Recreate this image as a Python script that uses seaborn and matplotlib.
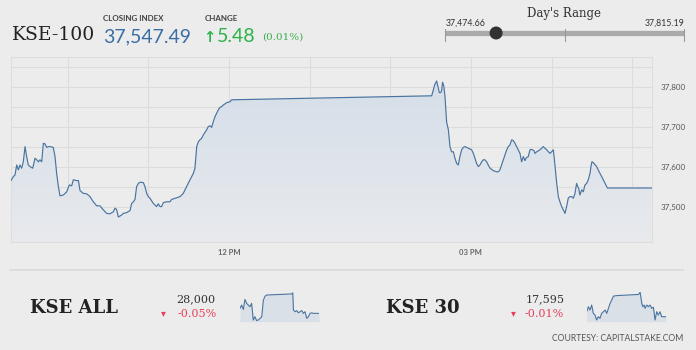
import numpy as np
import pandas as pd
import matplotlib
matplotlib.use("Agg")
import matplotlib.pyplot as plt
import seaborn as sns
from matplotlib.patches import Circle, PathPatch
from matplotlib.colors import to_rgba

# ---------------- data ----------------
# KSE-100 intraday, time in minutes after midnight
morning_t = [557.9, 559.6, 560.8, 562.1, 563.3, 564.5, 565.8, 567.0, 568.3, 569.5,
             570.7, 572.0, 574.0, 575.7, 577.0, 578.2, 579.4, 580.7, 581.9, 583.1,
             584.4, 585.6, 586.9, 589.3, 590.6, 591.8, 593.1, 594.3, 596.8, 599.3,
             601.2, 603.0, 604.2, 606.7, 608.0, 609.2, 611.7, 614.1, 616.6, 619.1,
             621.6, 624.0, 626.5, 629.0, 631.5, 634.0, 635.2, 636.4, 637.7, 640.2,
             641.4, 643.9, 646.4, 647.6, 648.9, 650.1, 651.3, 652.6, 653.8, 656.3,
             657.5, 658.8, 660.0, 661.2, 663.7, 665.0, 666.2, 667.4, 668.7, 669.9,
             671.2, 673.6, 676.1, 677.4, 681.1, 683.6, 686.0, 688.5, 691.0, 693.5,
             694.7, 696.0, 697.2, 698.4, 699.7, 700.9, 703.4, 704.6, 705.9, 707.1,
             708.3, 709.6, 710.8, 712.1, 713.3, 714.5, 715.8, 718.3, 720.7, 722.0]
morning_v = [37566, 37576, 37580, 37605, 37593, 37605, 37597, 37613, 37651, 37626,
             37605, 37601, 37597, 37622, 37618, 37613, 37618, 37613, 37659, 37658,
             37649, 37651, 37651, 37649, 37626, 37584, 37551, 37528, 37530, 37538,
             37555, 37553, 37568, 37566, 37566, 37541, 37534, 37533, 37526, 37513,
             37503, 37503, 37493, 37484, 37483, 37488, 37497, 37494, 37475, 37480,
             37484, 37486, 37491, 37509, 37513, 37519, 37551, 37559, 37562, 37561,
             37551, 37534, 37526, 37522, 37509, 37505, 37501, 37508, 37501, 37501,
             37511, 37513, 37513, 37519, 37523, 37526, 37534, 37551, 37568, 37584,
             37597, 37651, 37663, 37668, 37672, 37680, 37693, 37701, 37703, 37699,
             37713, 37726, 37734, 37743, 37749, 37751, 37755, 37761, 37763, 37768]
afternoon_t = [870.8, 872.0, 873.2, 874.5, 875.7, 876.5, 877.5, 878.2, 878.9, 879.9,
               880.7, 881.9, 883.2, 884.4, 885.6, 886.9, 888.1, 889.4, 890.6, 891.8,
               893.1, 894.3, 895.6, 898.0, 900.5, 901.8, 903.0, 904.2, 905.5, 906.7,
               908.0, 909.2, 910.4, 911.7, 912.9, 914.2, 915.4, 916.6, 919.1, 920.4,
               921.6, 922.8, 924.1, 925.3, 926.6, 927.8, 929.0, 930.3, 931.5, 932.8,
               934.0, 935.2, 936.5, 937.7, 939.0, 940.2, 941.4, 942.7, 943.9, 945.2,
               946.9, 947.6, 948.9, 951.4, 953.8, 956.3, 958.8, 960.0, 961.3, 962.5,
               963.8, 965.0, 966.2, 967.5, 968.7, 970.0, 971.2, 972.4, 973.7, 974.9,
               976.2, 977.4, 978.6, 979.4, 980.1, 981.1, 982.4, 983.6, 984.8, 986.1,
               987.3, 988.6, 989.3, 990.0, 991.0, 993.5, 996.0, 998.5, 1001.5, 1034.4]
afternoon_v = [37778, 37793, 37807, 37815, 37797, 37786, 37786, 37791, 37812, 37801,
               37776, 37713, 37693, 37651, 37638, 37638, 37622, 37609, 37605, 37626,
               37643, 37649, 37651, 37647, 37643, 37634, 37622, 37609, 37601, 37605,
               37613, 37618, 37618, 37613, 37605, 37597, 37594, 37591, 37588, 37588,
               37593, 37605, 37618, 37630, 37643, 37651, 37655, 37668, 37666, 37659,
               37651, 37643, 37634, 37613, 37626, 37616, 37624, 37626, 37643, 37644,
               37641, 37634, 37638, 37643, 37651, 37643, 37634, 37638, 37643, 37605,
               37559, 37526, 37513, 37501, 37493, 37484, 37501, 37522, 37526, 37526,
               37522, 37534, 37559, 37551, 37547, 37530, 37543, 37538, 37555, 37559,
               37568, 37584, 37601, 37613, 37611, 37601, 37584, 37568, 37547.49, 37547.49]

y_ticks = [37500, 37600, 37700, 37800]
y_labels = ["37,500", "37,600", "37,700", "37,800"]
y_minor = [37450, 37550, 37650, 37750, 37850]
x_ticks = [600, 660, 720, 780, 840, 900, 960, 1020]
x_labels = ["", "", "12 PM", "", "", "03 PM", "", ""]

closing_index = "37,547.49"
change = "5.48"
change_pct = "(0.01%)"
day_low, day_high, day_close = 37474.66, 37815.19, 37547.49

# sparklines (minutes, index level)
all_t = [558, 568, 578, 588, 598, 608, 618, 628, 638, 648, 658, 668, 679, 689, 699, 709, 719,
         870, 876, 880, 890, 900, 910, 920, 930, 940, 950, 960, 970, 980, 990, 1000, 1034]
all_v = [28009, 28015, 28007, 28025, 28018, 28015, 28012, 28018, 27988, 27994, 27987, 27988,
         27991, 27994, 28024, 28031, 28033, 28035, 28037, 28006, 28003, 28005, 28001, 28003,
         28005, 28000, 28003, 27991, 27994, 28000, 28001, 28000, 28000]
k30_t = [558, 568, 578, 588, 598, 608, 618, 628, 638, 648, 659, 669, 679, 689, 699, 709, 719,
         739, 870, 880, 884, 890, 896, 904, 910, 920, 930, 940, 950, 960, 970, 980, 990,
         1000, 1010, 1036]
k30_v = [17604, 17613, 17607, 17616, 17601, 17598, 17589, 17595, 17592, 17601, 17604, 17607,
         17601, 17610, 17619, 17625, 17632, 17633, 17635, 17639, 17631, 17619, 17613, 17616,
         17610, 17616, 17613, 17616, 17610, 17612, 17589, 17604, 17598, 17604, 17595, 17595]

# ---------------- figure ----------------
W, H = 696, 350
BG = "#ececec"
LINE = "#4a74a0"
sns.set_style("white")
plt.rcParams["font.family"] = ["Lato", "DejaVu Sans"]

fig = plt.figure(figsize=(W / 100, H / 100), dpi=100, facecolor=BG)


def rect(x0, y0, x1, y1):
    return [x0 / W, 1 - y1 / H, (x1 - x0) / W, (y1 - y0) / H]


# main chart
ax = fig.add_axes(rect(11, 57, 652, 242))
ax.set_facecolor(BG)
df = pd.DataFrame({"minute": morning_t + afternoon_t, "value": morning_v + afternoon_v})
xmin, xmax, ymin, ymax = 557.85, 1034.7, 37412.5, 37875
sns.lineplot(data=df, x="minute", y="value", ax=ax, color=LINE, linewidth=0.85,
             estimator=None, sort=False, zorder=5)
poly = ax.fill_between(df["minute"], df["value"], ymin, facecolor="none", edgecolor="none")
patch = PathPatch(poly.get_paths()[0], transform=ax.transData, facecolor="none", edgecolor="none")
ax.add_patch(patch)
c_top = np.array(to_rgba("#d5dee9"))
c_bot = np.array(to_rgba("#e8eaed"))
tt = np.linspace(0, 1, 256)[:, None]
grad = (c_bot * (1 - tt) + c_top * tt)[:, None, :]
im = ax.imshow(grad, extent=[xmin, xmax, ymin, 37815], origin="lower", aspect="auto", zorder=2)
im.set_clip_path(patch)
ax.set_xlim(xmin, xmax)
ax.set_ylim(ymin, ymax)

ax.yaxis.tick_right()
ax.set_yticks(y_ticks)
ax.set_yticklabels(y_labels)
ax.set_yticks(y_minor, minor=True)
ax.set_xticks(x_ticks)
ax.set_xticklabels(x_labels)
ax.tick_params(axis="y", which="both", length=0, pad=6, labelsize=5.8, labelcolor="#555555")
ax.tick_params(axis="x", which="both", length=0, pad=5, labelsize=5.5, labelcolor="#666666")
for lab in ax.get_xticklabels():
    lab.set_fontweight("bold")
ax.grid(True, which="both", color="#dcdcdc", linewidth=0.8, zorder=0)
ax.set_axisbelow(True)
ax.set_xlabel("")
ax.set_ylabel("")
for side in ["top", "left", "right", "bottom"]:
    ax.spines[side].set_color("#dddddd")
    ax.spines[side].set_linewidth(0.8)

# overlay in pixel coordinates
ov = fig.add_axes([0, 0, 1, 1])
ov.set_xlim(0, W)
ov.set_ylim(H, 0)
ov.axis("off")
ov.patch.set_alpha(0)

SERIF = ["DejaVu Serif"]
ov.text(12, 40, "KSE-100", family=SERIF, fontsize=13.5, color="#222222", va="baseline")
ov.text(103, 21, "CLOSING INDEX", fontsize=5.8, color="#444444", va="baseline", fontweight="bold")
ov.text(103, 42, closing_index, fontsize=14, color="#3b6ea5", va="baseline")
ov.text(205, 21, "CHANGE", fontsize=5.8, color="#444444", va="baseline", fontweight="bold")
ov.text(203.5, 42, "\u2191", family=["DejaVu Sans"], fontsize=10.5, color="#2db34a", va="baseline",
        fontweight="bold")
ov.text(217, 42, change, fontsize=14, color="#2db34a", va="baseline")
ov.text(262, 40, change_pct, family=SERIF, fontsize=7.5, color="#3cb04f", va="baseline")

ov.text(564, 17, "Day's Range", family=SERIF, fontsize=8.5, color="#333333", va="baseline", ha="center")
ov.text(446, 26, f"{day_low:,.2f}", fontsize=6.3, color="#333333", va="baseline")
ov.text(684, 26, f"{day_high:,.2f}", fontsize=6.3, color="#333333", va="baseline", ha="right")
bx0, bx1 = 445, 684
ov.plot([bx0, bx1], [33, 33], color="#aaaaaa", linewidth=3.8, solid_capstyle="butt")
for xx in [bx0, (bx0 + bx1) / 2, bx1]:
    ov.plot([xx, xx], [29, 41], color="#999999", linewidth=0.8)
pos = bx0 + (day_close - day_low) / (day_high - day_low) * (bx1 - bx0)
ov.add_patch(Circle((pos, 33), 5.8, color="#333333", zorder=5))

# separator
ov.plot([10, 683], [270, 270], color="#d9d9d9", linewidth=1.2)

# bottom tickers
ov.text(30, 313, "KSE ALL", family=SERIF, fontsize=13, fontweight="bold", color="#222222", va="baseline")
ov.text(196, 302, "28,000", family=SERIF, fontsize=8, color="#333333", va="baseline", ha="center")
ov.text(163, 316, "\u25BE", family=["DejaVu Sans"], fontsize=7, color="#e8405a", va="baseline", ha="center")
ov.text(178, 317, "-0.05%", family=SERIF, fontsize=8, color="#e8405a", va="baseline")

ov.text(386, 313, "KSE 30", family=SERIF, fontsize=13, fontweight="bold", color="#222222", va="baseline")
ov.text(545, 302, "17,595", family=SERIF, fontsize=8, color="#333333", va="baseline", ha="center")
ov.text(513, 316, "\u25BE", family=["DejaVu Sans"], fontsize=7, color="#e8405a", va="baseline", ha="center")
ov.text(525, 317, "-0.01%", family=SERIF, fontsize=8, color="#e8405a", va="baseline")

ov.text(683, 341, "COURTESY: CAPITALSTAKE.COM", fontsize=6.2, color="#555555", va="baseline", ha="right")


def spark(box, t, v, lo, hi):
    a = fig.add_axes(rect(*box))
    a.set_facecolor("none")
    d = pd.DataFrame({"t": t, "v": v})
    sns.lineplot(data=d, x="t", y="v", ax=a, color=LINE, linewidth=0.8, estimator=None, sort=False)
    a.fill_between(d["t"], d["v"], lo, color="#d9e0e8", linewidth=0)
    a.set_xlim(min(t), max(t))
    a.set_ylim(lo, hi)
    a.axis("off")


spark((240, 291.7, 319, 321.7), all_t, all_v, 27985, 28039)
spark((586.7, 291.7, 666, 321.7), k30_t, k30_v, 17586, 17640)

fig.savefig("out.png", dpi=100, facecolor=BG)
